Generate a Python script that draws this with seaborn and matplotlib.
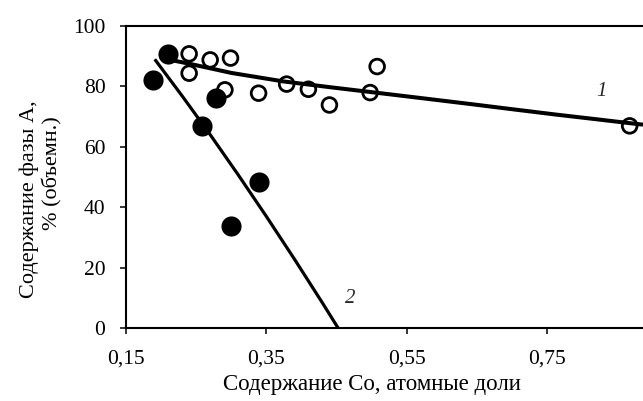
import matplotlib
matplotlib.use("Agg")
import matplotlib.pyplot as plt
import seaborn as sns
import pandas as pd

# Series 2 (filled circles)
x_filled = [0.189, 0.210, 0.259, 0.279, 0.300, 0.339]
y_filled = [82.1, 90.6, 66.9, 76.0, 33.9, 48.3]

# Series 1 (open circles)
x_open = [0.240, 0.240, 0.270, 0.299, 0.291, 0.339, 0.379, 0.410, 0.440, 0.498, 0.508, 0.868]
y_open = [90.7, 84.3, 88.7, 89.3, 78.8, 77.7, 80.7, 79.0, 73.8, 77.9, 86.5, 66.9]

# Trend curve 1
x_curve1 = [0.213, 0.241, 0.300, 0.374, 0.440, 0.498, 0.570, 0.645, 0.704, 0.764, 0.820, 0.864, 0.887]
y_curve1 = [88.7, 87.4, 84.4, 81.6, 79.7, 78.1, 76.1, 74.0, 72.3, 70.6, 69.1, 67.9, 67.3]

# Trend curve 2
x_curve2 = [0.191, 0.230, 0.270, 0.310, 0.350, 0.390, 0.430, 0.4526]
y_curve2 = [88.9, 76.8, 64.0, 50.7, 37.0, 22.9, 8.4, 0.0]

x_ticks = [0.15, 0.35, 0.55, 0.75]
x_ticklabels = ["0,15", "0,35", "0,55", "0,75"]
y_ticks = [0, 20, 40, 60, 80, 100]

sns.set_theme(style="white")
plt.rcParams["font.family"] = ["Liberation Serif", "DejaVu Serif"]

W, H = 643, 401
fig = plt.figure(figsize=(6.43, 4.01), dpi=100)
ax = fig.add_axes([126/W, 1 - 328.3/H, (W - 126)/W, (328.3 - 25.7)/H])

df_c1 = pd.DataFrame({"x": x_curve1, "y": y_curve1})
df_c2 = pd.DataFrame({"x": x_curve2, "y": y_curve2})
df_open = pd.DataFrame({"x": x_open, "y": y_open})
df_filled = pd.DataFrame({"x": x_filled, "y": y_filled})

sns.lineplot(data=df_c1, x="x", y="y", ax=ax, color="black", lw=2.9, sort=False,
             solid_capstyle="butt", zorder=2)
sns.lineplot(data=df_c2, x="x", y="y", ax=ax, color="black", lw=2.3, sort=False,
             solid_capstyle="butt", zorder=2)
sns.scatterplot(data=df_open, x="x", y="y", ax=ax, s=112, facecolor="none",
                edgecolor="black", linewidth=2.0, zorder=3)
sns.scatterplot(data=df_filled, x="x", y="y", ax=ax, s=210, color="black",
                edgecolor="black", linewidth=0, zorder=4)

ax.set_xlim(0.15, 0.15 + (W - 126) / 701.5)
ax.set_ylim(0, 100)
ax.set_xticks(x_ticks)
ax.set_xticklabels(x_ticklabels)
ax.set_yticks(y_ticks)

for side in ["left", "bottom", "top"]:
    ax.spines[side].set_visible(True)
    ax.spines[side].set_color("black")
    ax.spines[side].set_linewidth(1.5)
ax.spines["right"].set_visible(False)

ax.tick_params(axis="both", direction="out", length=4.3, width=1.1, color="black",
               labelsize=15.5, labelcolor="black")
ax.tick_params(axis="x", pad=11, bottom=True)
ax.tick_params(axis="y", pad=10.5, left=True)

ax.set_xlabel("")
ax.set_ylabel("")
fig.text(372/W, 1 - 390/H, "Содержание Co, атомные доли", fontsize=16.5,
         ha="center", va="baseline", color="black")
fig.text(29/W, 1 - 199/H, "Содержание фазы А,", fontsize=16, rotation=90,
         ha="center", va="center", color="black")
fig.text(52/W, 1 - 173/H, "% (объемн.)", fontsize=16, rotation=90,
         ha="center", va="center", color="black")

ax.text(0.828, 78.2, "1", fontsize=15, style="italic", ha="center", va="center")
ax.text(0.469, 9.9, "2", fontsize=15, style="italic", ha="center", va="center")

fig.savefig("out.png", dpi=100)
